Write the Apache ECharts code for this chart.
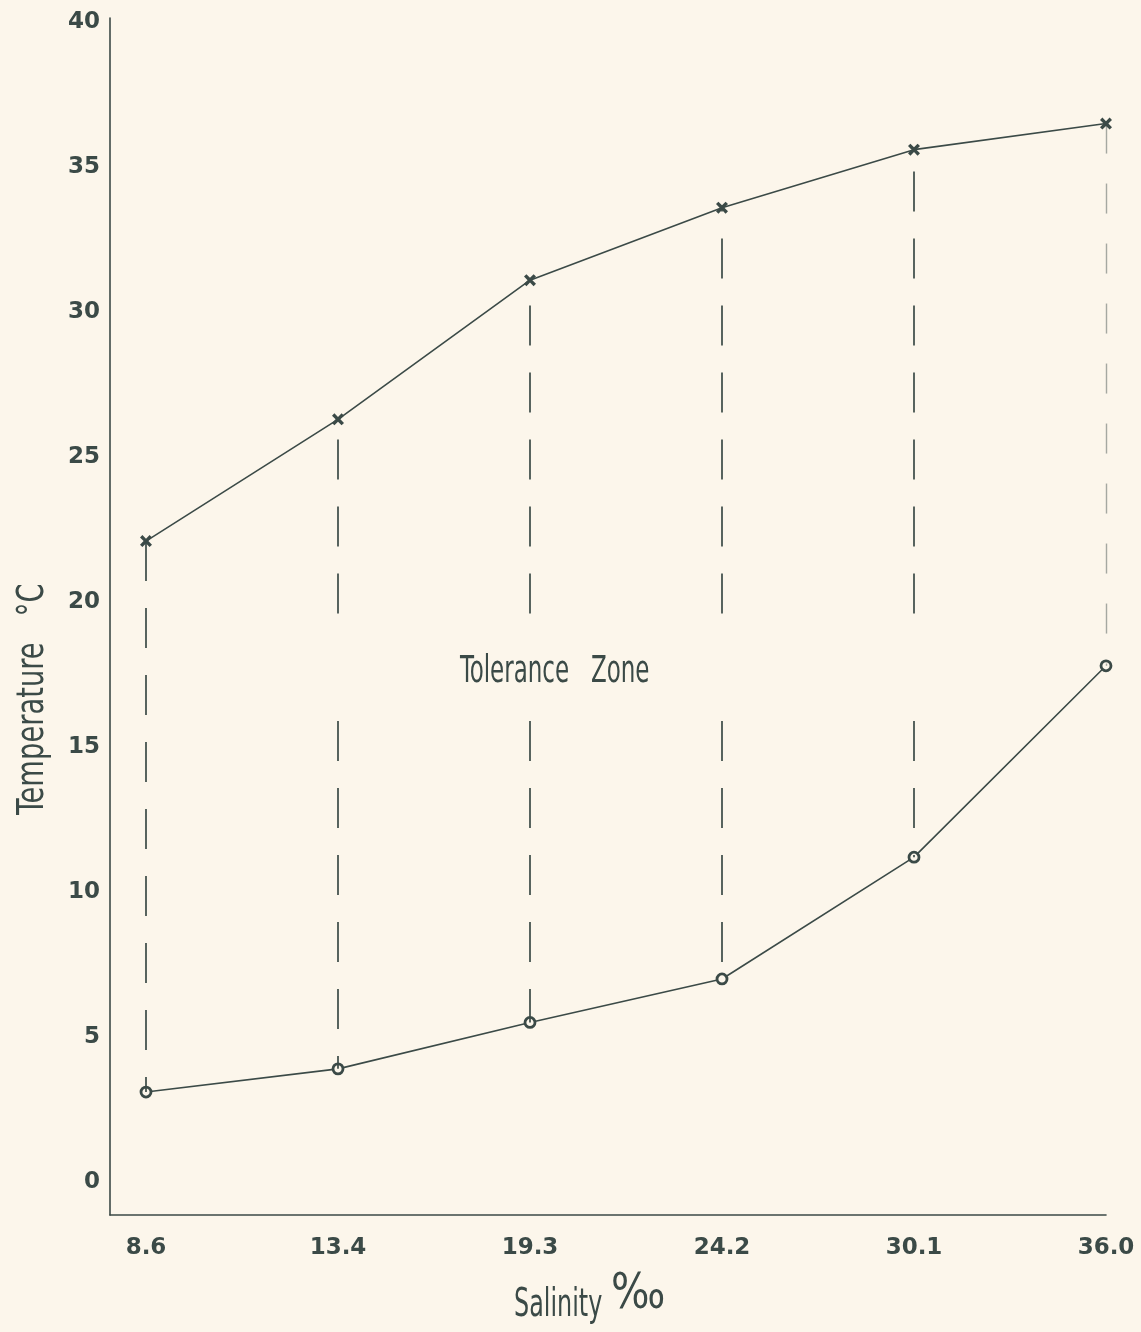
<!DOCTYPE html>
<html><head><meta charset="utf-8">
<script src="https://cdn.jsdelivr.net/npm/echarts@6/dist/echarts.min.js"></script>
<style>html,body{margin:0;padding:0;background:#fcf6eb;}#chart{width:1141px;height:1332px;}</style>
</head><body><div id="chart"></div>
<script>
// ---- data ----
const salinity = ['8.6', '13.4', '19.3', '24.2', '30.1', '36.0'];
const upperLimit = [22.1, 26.3, 31.1, 33.6, 35.6, 36.5];
const lowerLimit = [3.1, 3.9, 5.5, 7.0, 11.2, 17.8];
const tempTicks = [0, 5, 10, 15, 20, 25, 30, 35, 40];
const zoneLabel = 'Tolerance   Zone';

// ---- style ----
const INK = '#3b4a47';
const BG = '#fcf6eb';
const GAP_LOW = 15.9, GAP_HIGH = 19.6;      // gap in dashed lines around the zone label
const gapColumns = [false, true, true, true, true, false];
const condensed = '"Liberation Sans Narrow","DejaVu Sans Condensed","Liberation Sans",sans-serif';

const chart = echarts.init(document.getElementById('chart'), null, {renderer: 'canvas'});

const dashSegments = [];
salinity.forEach((s, i) => {
  const ls = i === 5
    ? {type: [30, 30], width: 1.4, color: INK, opacity: 0.45}
    : {type: [40, 27], width: 1.7, color: INK};
  if (gapColumns[i]) {
    dashSegments.push([{coord: [i, GAP_HIGH], lineStyle: ls}, {coord: [i, upperLimit[i]]}]);
    dashSegments.push([{coord: [i, GAP_LOW], lineStyle: ls}, {coord: [i, lowerLimit[i]]}]);
  } else {
    dashSegments.push([{coord: [i, upperLimit[i]], lineStyle: ls}, {coord: [i, lowerLimit[i]]}]);
  }
});

const option = {
  backgroundColor: BG,
  animation: false,
  grid: {left: 110, right: 35, top: 18, bottom: 117},
  xAxis: {
    type: 'value', min: -0.1875, max: 5,
    axisLine: {show: true, onZero: false, lineStyle: {color: INK, width: 1.6}},
    axisTick: {show: false},
    splitLine: {show: false},
    axisLabel: {
      customValues: salinity.map((s, i) => i),
      formatter: v => salinity[Math.round(v)],
      color: INK, fontFamily: 'DejaVu Sans', fontWeight: 'bold', fontSize: 23, margin: 22
    }
  },
  yAxis: {
    type: 'value', min: -1.14, max: 40.14,
    axisLine: {show: true, onZero: false, lineStyle: {color: INK, width: 1.6}},
    axisTick: {show: false},
    splitLine: {show: false},
    axisLabel: {
      customValues: tempTicks,
      color: INK, fontFamily: 'DejaVu Sans', fontWeight: 'bold', fontSize: 23, margin: 10
    }
  },
  series: [
    {
      name: 'Upper limit', type: 'line', clip: false,
      data: upperLimit.map((v, i) => [i, v]),
      symbol: 'path://M0,2L2,0L5,3L8,0L10,2L7,5L10,8L8,10L5,7L2,10L0,8L3,5Z',
      symbolSize: 12,
      itemStyle: {color: INK},
      lineStyle: {color: INK, width: 1.6},
      markLine: {
        silent: true, symbol: ['none', 'none'], label: {show: false},
        lineStyle: {type: [40, 27], width: 1.7, color: INK},
        data: dashSegments
      }
    },
    {
      name: 'Lower limit', type: 'line', clip: false,
      data: lowerLimit.map((v, i) => [i, v]),
      symbol: 'circle', symbolSize: 10,
      itemStyle: {color: BG, borderColor: INK, borderWidth: 2.8},
      lineStyle: {color: INK, width: 1.6}
    }
  ],
  graphic: [
    {
      type: 'text', x: 460, y: 654, scaleX: 0.69,
      style: {text: zoneLabel, font: '37px ' + condensed, fill: INK}
    },
    {
      type: 'text', x: 14, y: 815, rotation: Math.PI / 2, scaleX: 0.8,
      style: {text: 'Temperature   °C', font: '38px ' + condensed, fill: INK}
    },
    {
      type: 'text', x: 514, y: 1286, scaleX: 0.68,
      style: {text: 'Salinity', font: '39px ' + condensed, fill: INK}
    },
    {
      type: 'text', x: 611, y: 1270, scaleX: 0.9,
      style: {text: '‰', font: '50px ' + condensed, fill: INK}
    }
  ]
};
chart.setOption(option);
</script></body></html>
